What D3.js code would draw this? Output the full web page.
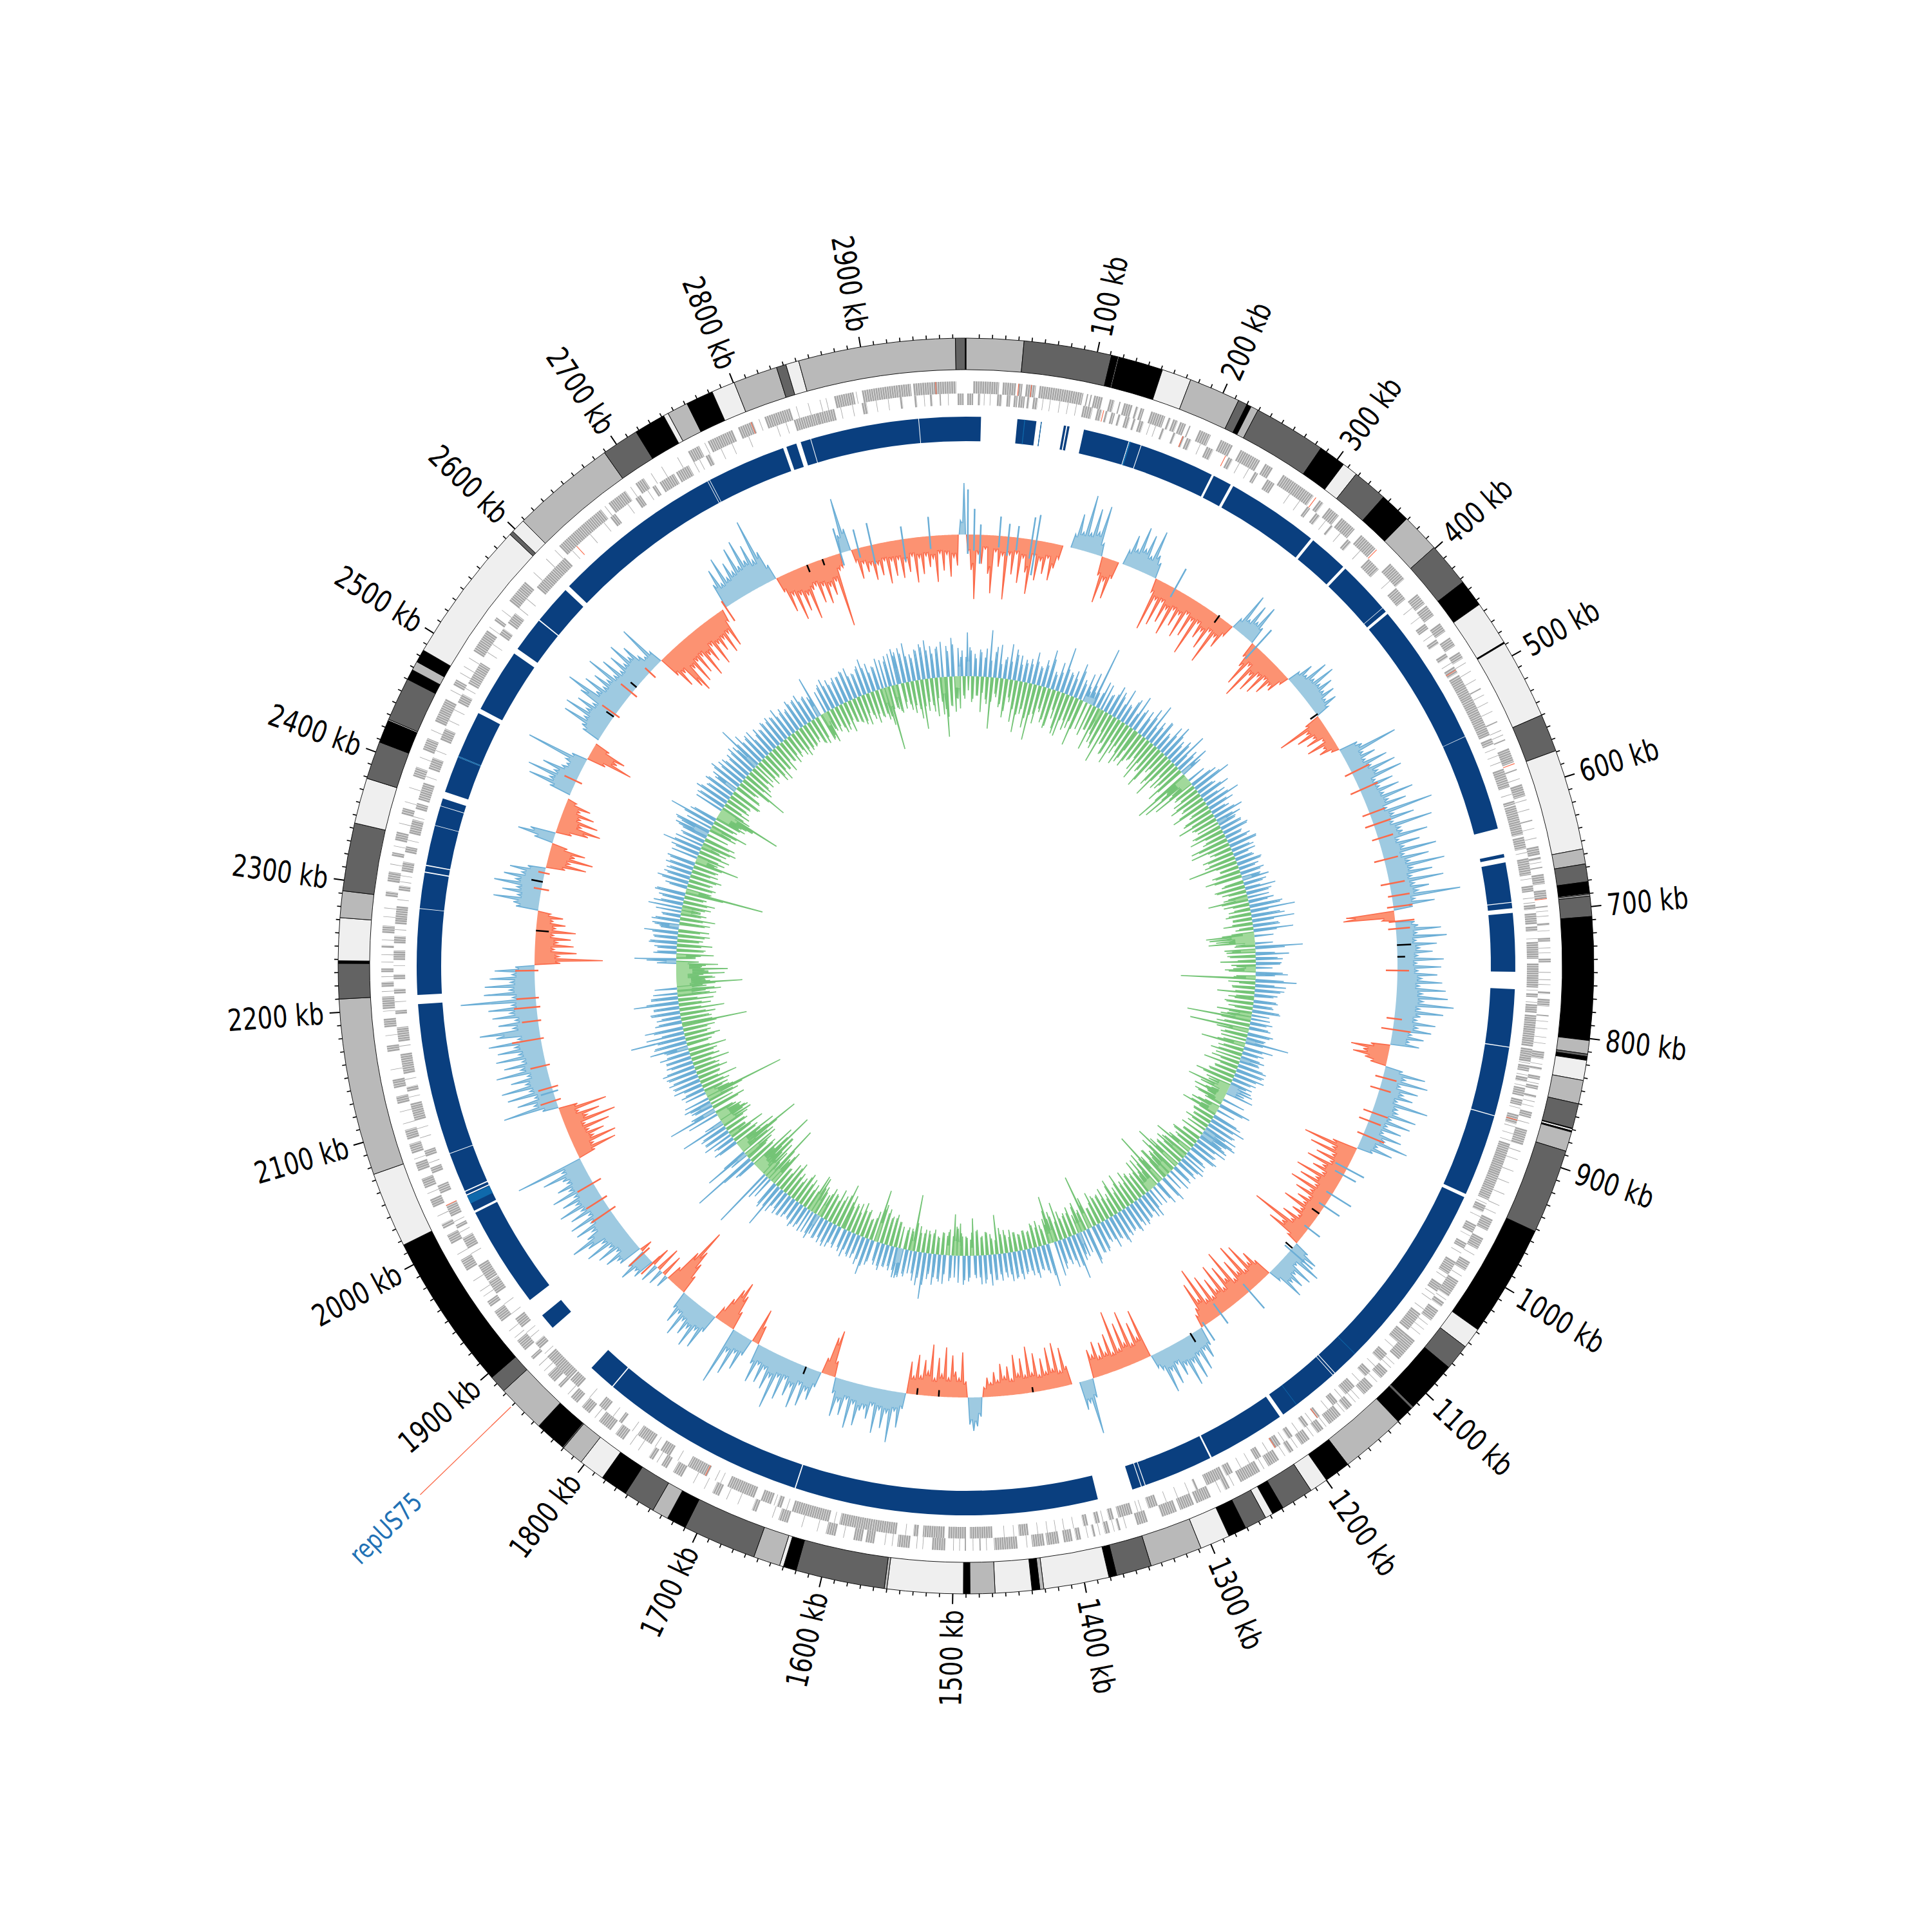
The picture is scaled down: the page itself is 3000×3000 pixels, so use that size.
<!DOCTYPE html>
<html><head><meta charset="utf-8">
<script src="https://cdnjs.cloudflare.com/ajax/libs/d3/7.8.5/d3.min.js"></script>
<style>html,body{margin:0;background:#fff}svg{display:block}</style></head>
<body><svg id="c" width="3000" height="3000"></svg>
<script>
const genomeKb = 2980;
const binKb = 4;
const ringStarts = [0,44,111,116,116.8,151,173.6,213,220,223.6,229.4,285,306,318,345,369,399,433,454,488,489,550,579,656,667.5,681,690,690.7,692,707.5,801.5,811.8,813.7,816.6,832,850,869,869.5,871,872,887,952,1038,1054,1074,1114,1116,1130,1180,1200,1214,1239,1248,1254,1271,1285,1308,1348,1375,1381,1431,1434,1440,1468,1487,1492,1550,1552,1620,1630,1633,1653.5,1710,1725,1737.6,1762,1783,1803,1820,1821,1845,1882.5,1896,2016.6,2074.6,2210,2237,2239,2271.6,2292,2344,2379,2408,2425.6,2426.5,2460,2468,2475,2485,2594.5,2597.6,2608.6,2689,2717.6,2741.7,2745.5,2761.6,2782.6,2800.6,2834.6,2842,2852,2972,2979.5];
const ringLevels = [1,2,3,1,3,0,1,2,3,1,2,3,0,2,3,1,2,3,0,3,0,2,0,1,2,3,0,1,2,3,1,2,3,0,1,2,3,0,3,1,2,3,0,2,3,2,3,1,3,0,2,3,0,2,3,0,1,2,3,0,1,3,0,1,3,0,1,2,3,0,1,2,3,1,2,3,0,1,2,3,1,2,3,0,1,2,3,0,1,2,0,2,3,0,2,3,1,3,0,2,0,1,2,3,0,1,3,0,1,2,0,1,2,3];
const ringColors = ["#efefef","#b9b9b9","#636363","#000000"];

const genesOuter = [[6,27],[30,41],[43,46],[49,57],[60,96],[99,100],[102,103],[105,112],[118,122],[126,127],[130,137],[140,142],[144,147],[153,165],[168,170],[172,176],[178,183],[186,187],[195,205],[214,225],[232,250],[255,262],[272,302],[308,312],[318,328],[331,345],[352,368],[385,402],[418,428],[430,440],[448,456],[462,470],[476,482],[510,511],[540,541],[556,557],[564,576],[582,583],[595,605],[625,626],[647,654],[656,658],[664,665],[670,678],[683,690],[696,697],[710,712],[722,725],[739,742],[766,768],[772,778],[785,786],[815,821],[828,830],[835,838],[843,846],[851,853],[865,870],[880,893],[958,968],[975,985],[997,1005],[1015,1030],[1036,1040],[1044,1054],[1075,1095],[1108,1116],[1125,1135],[1148,1154],[1160,1172],[1178,1184],[1192,1200],[1208,1212],[1222,1232],[1240,1258],[1268,1272],[1285,1298],[1300,1312],[1315,1328],[1340,1349],[1363,1365],[1372,1376],[1384,1386],[1396,1400],[1403,1410],[1414,1424],[1426,1436],[1448,1467],[1478,1479],[1490,1491],[1507,1518],[1536,1546],[1565,1572],[1575,1582],[1597,1605],[1637,1645],[1664,1668],[1697,1703],[1731,1739],[1745,1750],[1758,1762],[1787,1795],[1800,1812],[1822,1830],[1835,1842],[1853,1856],[1860,1868],[1885,1888],[1895,1905],[1925,1935],[1940,1945],[1975,1985],[2000,2008],[2014,2018],[2033,2040],[2050,2058],[2065,2072],[2080,2088],[2092,2100],[2122,2128],[2135,2142],[2165,2170],[2185,2192],[2200,2210],[2218,2222],[2230,2233],[2250,2252],[2262,2268],[2292,2296],[2304,2312],[2325,2328],[2338,2345],[2360,2365],[2392,2400],[2415,2425],[2440,2460],[2473,2478],[2505,2525],[2535,2538],[2555,2575],[2615,2660],[2668,2685],[2695,2703],[2745,2755],[2763,2785],[2790,2803],[2813,2835],[2872,2888],[2895,2925],[2925,2935],[2937,2955],[2955,2972]];
const genesInner = [[1,6],[10,12],[26,30],[34,37],[40,43],[44,49],[51,53],[56,60],[98,106],[110,114],[117,119],[122,125],[128,130],[134,138],[141,143],[146,150],[166,168],[176,178],[184,186],[188,192],[206,212],[226,230],[251,254],[263,270],[303,306],[312,316],[328,330],[346,350],[370,382],[403,415],[441,446],[457,461],[471,475],[484,490],[492,548],[551,556],[578,594],[606,609],[610,635],[637,647],[655,669],[678,683],[694,698],[701,710],[712,716],[725,739],[743,763],[768,771],[777,784],[786,812],[814,825],[828,833],[838,842],[847,854],[857,862],[870,878],[895,945],[950,956],[968,975],[985,990],[1003,1015],[1025,1032],[1055,1072],[1075,1085],[1098,1106],[1118,1124],[1136,1146],[1155,1160],[1174,1177],[1186,1190],[1202,1206],[1214,1220],[1233,1238],[1260,1266],[1268,1284],[1292,1294],[1328,1336],[1350,1362],[1366,1370],[1378,1382],[1388,1392],[1438,1446],[1468,1487],[1490,1505],[1508,1526],[1530,1534],[1548,1569],[1569,1596],[1605,1637],[1646,1650],[1655,1664],[1670,1694],[1713,1731],[1748,1757],[1766,1780],[1796,1799],[1813,1820],[1843,1852],[1853,1879],[1888,1894],[1911,1920],[1946,1958],[1959,1974],[1990,2000],[2009,2012],[2020,2030],[2041,2048],[2059,2064],[2074,2079],[2105,2120],[2130,2134],[2145,2162],[2172,2184],[2195,2198],[2212,2216],[2224,2228],[2240,2248],[2254,2260],[2270,2285],[2298,2302],[2314,2322],[2330,2335],[2346,2358],[2367,2372],[2375,2390],[2402,2412],[2428,2438],[2462,2470],[2480,2500],[2528,2534],[2540,2550],[2578,2612],[2662,2667],[2688,2693],[2705,2708],[2712,2726],[2728,2740],[2756,2760],[2835,2855],[2855,2870],[2893,2897],[2925,2927],[2937,2939],[2950,2952],[2958,2959],[2973,2978]];
const thinOuter = [486,494,502,516,523,531,548,552,590,608,616,632,640,660,700,704,716,730,734,750,756,760,790,796,803,808,825,841,856,860,874,898,905,915,925,935,945,952,990,1010,1033,1058,1063,1068,1100,1104,1120,1140,1144,1156,1175,1188,1204,1216,1236,1264,1276,1358,1368,1380,1390,1440,1473,1484,1495,1500,1525,1530,1550,1556,1590,1612,1625,1650,1680,1690,1710,1720,1754,1772,1780,1816,1845,1872,1878,1908,1915,1950,1955,1965,1990,2025,2045,2075,2105,2115,2150,2178,2198,2214,2226,2238,2244,2256,2275,2282,2318,2333,2352,2370,2382,2408,2432,2468,2484,2490,2498,2528,2545,2585,2600,2610,2664,2690,2710,2720,2735,2760,2808,2840,2850,2860,2865,2890];
const thinInner = [15,20,64,70,78,85,92,155,160,200,236,245,285,295,322,338,360,395,424,434,452,480,560,566,572,600,650,672,688,692,722,765,775,826,836,845,864,880,886,892,948,960,978,994,1018,1035,1040,1050,1090,1112,1130,1150,1165,1182,1196,1210,1226,1244,1252,1300,1310,1320,1342,1345,1375,1400,1408,1415,1422,1430,1450,1458,1530,1540,1600,1641,1652,1700,1705,1740,1762,1785,1805,1830,1882,1900,1905,1925,1935,1985,2005,2015,2068,2090,2098,2125,2140,2168,2205,2235,2265,2290,2305,2310,2340,2360,2395,2418,2445,2455,2475,2510,2518,2555,2565,2620,2640,2655,2680,2700,2745,2750,2770,2780,2795,2820,2828,2875,2885,2905,2915,2945,2965];
const redOuter = [42.5,53,304,369,577,690,2801,2955];
const redInner = [115,184,223,487,874,1176,1219,1714,2030,2625];

const blueSpans = [[0,13],[44.5,61],[65,65.6],[85,87],[88,90],[102.7,142.6],[143.3,153.6],[154.2,220],[222,238.5],[241,322],[324.5,359],[361.5,408],[408.5,412.5],[415,540.4],[540.8,625],[647.5,650.5],[655,689.5],[690.2,695],[699,750],[765,815],[815.8,875.6],[876.4,948],[951,1140.5],[1141.2,1143],[1143.6,1198],[1201.5,1270],[1271.5,1332],[1332.7,1335.5],[1336.2,1344],[1375,1639.5],[1640.5,1821],[1822,1845.8],[1894,1908],[1925,2014],[2016,2030.5],[2031.5,2034],[2035,2069.5],[2070,2202],[2210,2284.5],[2285,2316],[2317,2322],[2323,2357.5],[2358,2375],[2375.5,2382],[2388,2420],[2421,2462],[2466,2522],[2527,2557.5],[2558.5,2592.5],[2597,2747.5],[2748,2749.5],[2750,2819],[2822,2831],[2835,2843.7],[2844.3,2938.7],[2939.3,2980]];
const blueAccents = [[50.5,51.2],[65,65.6],[143.3,144.5],[1116.5,1117],[1183.5,1184],[2023,2030],[2420,2421]];

const track1 = [
-28,-55,-100,-30,-45,-22,-60,-90,-25,-48,-30,-98,-28,-58,-25,-70,-30,-52,-85,-26,-62,-30,-50,-24,-58,
-38,-22,0,0,22,55,28,88,30,70,35,78,20,-30,-72,-35,-62,-28,0,24,50,30,68,35,60,
28,72,35,25,-22,-82,-30,-70,-28,-60,-35,-75,-30,-55,-32,-68,-25,-60,-30,-85,-28,-50,-35,-62,-28,
-80,-30,-45,-20,18,65,25,55,30,62,28,-25,-40,-70,-30,-85,-40,-65,-32,-60,-28,-50,-30,-35,-15,
20,40,25,58,30,62,32,50,30,45,25,40,22,-25,-75,-30,-50,-25,-40,-15,-45,-20,-30,-12,30,
35,90,30,48,28,62,32,70,38,75,28,55,30,60,32,78,35,62,28,100,35,66,30,91,38,
40,78,30,62,35,85,32,70,38,92,40,70,36,85,38,60,42,107,35,65,30,-75,-80,-20,30,
35,70,32,78,30,62,35,55,32,72,30,68,32,62,38,70,35,76,40,80,42,90,38,75,40,
35,65,38,60,30,50,28,45,-30,-60,-40,-55,-35,-25,28,65,35,72,30,60,38,55,32,83,36,
38,70,32,65,30,55,28,60,35,75,28,55,25,-40,-85,-35,-70,-30,-55,-28,-65,-35,-50,-30,-72,
-35,-60,-30,-70,-32,-55,-28,-45,-30,-62,-28,-40,-25,-50,-30,-95,-40,-60,-20,25,45,30,60,22,55,
30,50,35,58,20,-30,-50,-35,-72,-30,-80,-35,-60,-30,-85,-40,-65,-30,-75,-35,-58,-30,-70,-32,-90,
-40,-70,-30,-20,30,48,32,62,35,70,40,75,38,52,30,60,35,68,28,22,-78,-35,-62,-30,-85,
-35,-70,-30,-93,-28,-60,-32,-50,-30,-55,-35,-45,30,86,35,45,0,0,-30,-60,-25,-70,-30,-65,-28,
-50,-25,-60,-30,-72,-28,-55,-32,-62,-25,-45,-30,-50,-25,-38,-22,-30,-15,30,45,52,42,-25,-70,-30,
-40,-65,-30,-77,-35,-60,-28,-80,-38,-55,-30,-62,-28,-50,25,55,30,80,35,60,32,70,28,50,35,
40,65,32,72,28,55,35,60,25,-25,-72,-60,-25,25,48,35,62,30,70,38,55,30,66,32,86,
38,60,30,55,28,60,32,-30,-55,28,55,30,70,35,92,-30,-55,-75,-60,-40,-20,30,62,35,68,
40,55,35,65,30,50,28,-30,-50,-70,-104,-60,-25,20,-35,25,-40,30,-30,35,28,50,32,-20,38,
38,55,30,60,35,72,40,62,86,55,42,66,36,68,32,60,38,72,40,60,36,70,38,55,35,
40,70,35,107,-28,-65,-30,-70,-35,-55,-32,-68,-30,-82,-38,-60,-28,-75,-30,25,86,35,60,30,72,
35,78,38,60,32,80,40,65,35,75,38,70,42,82,35,68,93,40,62,35,70,42,75,38,117,
36,80,40,78,38,70,35,62,30,-40,-106,-38,-65,-30,-60,-35,-55,-28,-62,-30,-45,-25,-40,-20,35,
40,72,35,60,38,75,42,62,35,55,28,-30,-62,-35,-70,-40,-55,-25,30,58,40,-25,-50,-68,-35,
-60,-30,-50,-25,-40,-15,0,35,72,40,79,38,60,30,25,30,97,25,-30,-72,-45,-55,-25,0,30,
35,70,38,75,42,62,38,66,92,45,70,40,62,42,82,38,65,35,60,38,71,40,55,30,22,
73,22,-35,-60,-40,-72,-83,-45,-74,-40,-65,-38,-78,-45,-60,-35,-72,-40,-55,-38,-65,-35,-60,-20,0,
40,62,35,75,38,60,42,78,45,84,48,70,42,105,50,25,-25,-60,-35,-78,-40,-68,-45,-85,-40,
-35,-65,-40,-70,-45,-60,-40,-113,-25,-22,28,85,35,-20,-48,-25,-40,-30,-55,-32,-50,-28,-65,-30,-55,
-30,-60,-35,-52,-28,-70,-32,-58,-30,-48,-35,-72,-28,-55,-30,-65,-35,-48,22,80
];
const track2 = [
68,45,-40,35,-30,42,-55,30,-35,73,-80,40,-25,52,-45,30,-60,55,-28,48,-65,40,-80,35,-50,
38,-70,50,-88,30,-45,42,-35,60,-55,28,-62,45,-30,72,-58,35,-68,40,-40,55,-50,32,-75,45,
18,50,20,95,-40,25,-70,42,-55,30,-62,48,-81,35,-45,52,-60,28,-72,45,-38,55,-65,38,-50,
40,-60,50,-45,62,-35,38,-68,45,-50,30,-72,48,-40,55,-58,35,-73,42,-30,60,-48,38,-65,50,
35,-94,-40,-85,-35,-70,45,-38,63,-45,32,-55,50,-40,38,-60,57,-35,42,-50,30,-62,48,-38,40,
30,-48,35,-55,42,-32,28,-60,38,-63,45,-35,30,-50,36,-42,28,-78,40,-30,32,-45,38,-58,30,
42,-35,30,-45,48,-28,35,-38,-63,40,-40,52,-25,70,-35,45,-30,66,-32,40,-22,62,-35,-75,-70,
-60,-72,-30,74,-48,-45,52,-40,42,-55,38,-30,-35,-42,50,-30,-116,64,-25,48,-35,40,-58,30,-40,
35,-45,30,-38,42,-55,28,-48,-100,35,-40,30,-93,-50,35,-42,28,68,-35,-69,30,-40,25,-50,38,
30,-45,40,-55,45,-35,48,-42,38,-60,35,-40,-35,-67,-45,-25,-52,-28,-48,-24,51,-25,-46,-28,-58,
40,-35,58,-30,47,-40,54,-32,58,-38,45,-30,52,-45,40,-35,48,-42,-63,36,-48,-55,42,-50,30,
-58,-78,35,-65,38,-42,30,-55,45,-48,-89,40,-60,-30,-55,-28,-56,30,-40,41,-45,35,-52,38,-40,
40,-56,45,-38,36,-55,42,-35,50,-48,38,-42,48,-40,35,-52,42,-30,45,-50,-87,58,-30,-48,40,
35,-45,71,-38,50,-32,42,-60,38,-40,55,-74,-30,68,-25,45,-40,38,-35,48,-28,42,-30,35,-25,
45,-30,40,-35,45,-28,38,-30,42,-61,40,-25,48,-35,38,-30,45,-40,35,-58,-25,40,-30,45,-35,
42,-45,-64,35,-40,-30,45,-35,38,-28,48,-32,40,-35,72,-30,52,-40,35,-88,-30,42,-35,45,47,
47,-40,38,-50,35,-45,42,-55,36,-60,-82,40,-35,58,-30,45,-40,38,-52,35,-48,42,-45,30,-55,
35,-70,30,-48,40,-55,38,-42,35,-50,32,42,-38,36,-58,-60,30,-40,35,-45,32,-50,28,-38,36,
-42,38,-55,30,-48,72,-35,45,-60,-40,35,-96,-30,98,-28,-70,-35,-107,-40,-78,35,-50,104,-40,30,
72,-60,-28,-108,-35,-70,40,-45,35,-59,-30,42,-38,45,-35,72,30,-50,-38,-42,-35,79,40,-55,35,
35,-50,40,-127,-40,-30,38,-45,30,-60,42,-35,48,-50,45,-40,52,-58,35,-45,40,-38,48,-60,35,
60,-40,50,-55,86,-42,35,-50,60,-102,42,-48,38,-55,45,-70,40,-50,70,-55,42,-60,38,-68,35,
-40,-102,-45,-60,-35,-75,-50,-80,-40,-65,-35,65,-30,-58,30,-45,35,-55,42,-40,38,-50,53,-48,30,
42,-48,38,-55,30,-40,-30,53,-45,35,-50,40,-35,45,-123,-40,35,-45,50,-38,42,-50,35,-42,38,
-40,45,-70,-35,-45,38,-50,62,-42,45,-55,40,-50,48,-35,55,-45,42,-60,74,-40,38,-50,-42,-60,
-102,-50,48,-45,55,-40,42,-38,50,-48,38,45,-42,55,-35,48,-80,40,-50,45,-38,50,-42,38,74,
-45,55,-38,42,-50,48,-53,35,-40,38,-48,45,-35,40,-43,42,-38,50,-30,38,-45,35,-40,48,-38,
42,-35,48,-40,38,-45,35,65,-42,-50,-30,40,-38,50,-35,45,-42,38,-48,42,-35,48,-38,50,-45,
38,-48,42,-35,55,-50,45,-42,38,-40,48,-60,-100,40,-35,50,-45,45,-40,55,-35,61,-50,42,-45,
48,-77,55,-50,60,-42,50,-60,45,-38,55,-93,48,-45,60,-55,-35,-50,40,-35
];
const track2Between = [
30,-22,40,-35,28,-30,38,-25,44,-42,26,-38,48,-30,22,-40,34,-50,28,-35,40,-45,26,-52,30,
-42,30,-55,36,-48,28,-60,34,-40,46,-50,24,-58,30,-44,38,-66,32,-42,28,-55,44,-38,26,-48,
25,-45,30,-52,22,-40,44,-36,-42,28,-55,34,-30,42,-48,26,-62,30,-36,40,-52,24,-46,32,-58,
-35,28,-50,36,-42,24,-55,30,-38,44,-46,26,-60,34,-32,40,-50,28,-44,36,-52,24,-40,30,-48,
26,-60,-38,-52,30,-42,36,-34,48,-30,28,-44,38,-36,26,-48,40,-30,32,-46,24,-38,36,-42,28,
-36,28,-44,34,-30,40,-38,26,-48,32,-36,44,-28,36,-42,24,-50,30,-34,38,-30,26,-40,32,-44,
28,-30,36,-48,24,-38,40,-30,34,-42,30,-26,48,-34,28,-40,52,-30,34,-46,42,-28,36,-50,30,
-34,-40,28,-32,46,-36,30,-44,34,-28,40,-38,26,-48,42,30,-34,44,-42,30,-36,46,-30,36,-28,
-30,38,-42,32,-28,44,-36,-38,30,-46,26,-52,34,-30,40,-36,30,-40,28,-44,46,-32,34,-38,30,
-40,32,-30,46,-28,42,-34,36,-40,30,-48,26,36,40,28,44,-34,-30,36,-42,-28,40,-36,30,-44,
-28,48,-34,40,-30,44,-28,36,52,44,38,50,-30,34,-42,38,-30,44,-36,30,-44,38,-40,34,-48,
36,-44,30,-52,-40,-46,-36,-54,-34,36,-42,-48,30,-44,32,-34,30,-38,44,-36,30,-42,36,-34,42,
-34,32,-42,40,-30,38,-46,36,-28,44,-32,36,-40,34,-44,30,-36,46,-30,44,-38,52,-34,36,-42,
-30,44,-36,50,-34,38,-44,34,-30,46,-48,-38,-52,-40,50,-32,40,-30,36,-38,40,-26,34,-30,38,
-26,36,-30,42,-24,34,-36,30,-40,32,-22,40,-32,30,-36,44,-28,34,-38,30,-36,34,-28,38,-30,
-50,-42,34,-30,40,-36,30,-34,42,-26,36,-38,32,-30,50,-36,40,-30,46,-44,36,-34,38,-30,42,
-34,36,-40,32,-44,34,-42,36,-48,30,-52,34,-46,44,-32,36,-44,30,-40,38,-34,30,-42,36,-38,
-44,30,-52,38,-40,34,-36,30,-44,36,-40,-36,34,-46,-42,38,-32,36,-30,40,-36,30,-44,34,-30,
36,-34,30,-46,42,-30,38,-34,40,-52,-44,-58,42,-48,-62,-44,-70,-50,-66,-40,30,-44,54,-36,-50,
-60,40,-50,-72,-56,-44,32,-40,30,-36,48,-30,42,-34,40,-44,-52,-40,-46,-38,50,-30,36,-44,30,
-38,44,-42,-60,-46,34,-40,30,-36,46,-30,44,-36,40,-38,48,-34,44,-30,42,-36,40,-44,36,-34,
38,-34,52,-46,44,-36,60,-38,46,-54,-48,36,-44,30,-40,46,-34,40,-36,50,-30,42,-50,-44,-58,
-46,-60,-52,-44,-56,-42,-50,-44,-38,-46,30,46,-30,-38,36,-42,30,-38,44,-34,36,-42,40,-34,28,
38,-40,44,-36,28,-32,40,-30,-36,46,-38,34,-30,48,-60,-38,28,-40,42,-34,36,-42,40,-30,44,
-36,40,-44,-30,42,-34,46,-36,44,-30,-46,36,-42,40,54,46,58,-36,-44,50,-34,44,-42,-38,-50,
-60,46,-38,44,-30,48,-34,40,-36,46,-50,34,-44,48,-30,40,-52,46,-36,38,-44,42,-32,46,-36,
44,-34,40,-36,46,-42,30,-36,44,-40,36,-30,42,-36,46,-30,40,-32,36,-40,44,-34,38,-36,42,
-36,44,-30,36,-42,40,-36,30,-44,-38,36,-34,44,-30,38,-44,36,-34,44,-30,42,-36,46,-40,36,
-40,36,-30,46,-42,40,-36,30,-44,36,-50,-46,44,-36,48,-38,-42,56,50,-30,46,-44,40,-38,36,
-60,46,-42,50,-36,44,-52,38,-32,48,-58,-50,-62,40,-46,50,-34,44,30,-30
];
const orangeCross = [[525,-12,30],[546,-16,30],[574,-12,25],[587,-14,28],[603,-10,24],[627,-16,22],[654,-14,24],[668,-6,28],[680,-10,30],[696,-10,30],[704,-12,22],[750,-18,18],[803,-12,12],[815,-18,28],[869,-12,22],[882,-15,18],[909,-14,26],[919,-16,20],[935,-10,35],[1875,-15,25],[1890,-12,30],[1950,-10,35],[1965,-8,30],[1985,-14,28],[2085,-8,25],[2100,-10,22],[2125,-6,25],[2155,-5,45],[2175,-5,25],[2190,-6,35],[2200,-5,30],[2230,-6,30],[2320,-12,12],[2338,-8,10],[2445,-10,20],[2530,-8,25],[2560,-10,22],[2590,-12,10],[2700,-25,12]];
const blueCross = [[2,-30,70],[9,-25,40],[16,-45,16],[37,-18,30],[47,-30,20],[57,-20,18],[73,-30,35],[78,-55,40],[240,-15,35],[350,-25,35],[977,-20,30],[985,-15,22],[1010,-10,35],[1025,-10,28],[1055,-8,22],[1086,-12,45],[1150,-15,35],[1190,-20,18],[1212,-6,28],[2095,-8,20],[2840,-20,40],[2860,-15,30],[2875,-30,35],[2910,-35,20],[2940,-20,30]];
const blackMarks = [[297,-12,2],[450,-12,2],[722,0,22],[735,0,12],[1035,-14,0],[1083,-14,0],[1230,-2,14],[1416,-8,0],[1520,-10,0],[1544,-10,0],[1670,0,12],[2274,-20,0],[2328,0,18],[2527,0,14],[2568,0,12],[2801,-12,0],[2819,-10,0]];
const tickStep = 10, labelStep = 100;
const noteLabel = ["repUS75"], noteKb = [1870];

const svg = d3.select("#c");
const g = svg.append("g").attr("transform","translate(1500,1500)");
const ang = d3.scaleLinear().domain([0,genomeKb]).range([0,2*Math.PI]);
const deg = k => ang(k)*180/Math.PI;
const span = (r0,r1)=>d3.arc().innerRadius(r0).outerRadius(r1).startAngle(d=>ang(d[0])).endAngle(d=>ang(d[1]));

// outer band ring
const ringData = ringStarts.map((s,i)=>[s,i+1<ringStarts.length?ringStarts[i+1]:genomeKb,ringLevels[i]]);
g.append("g").selectAll("path").data(ringData).join("path")
 .attr("d",span(926,975)).attr("fill",d=>ringColors[d[2]]).attr("stroke","#000").attr("stroke-width",0.9);

// ticks
const ticks = d3.range(tickStep,genomeKb,tickStep);
g.append("g").selectAll("line").data(ticks).join("line")
 .attr("transform",d=>`rotate(${deg(d)-90})`)
 .attr("x1",975).attr("x2",d=>d%labelStep===0?991:981)
 .attr("stroke","#000").attr("stroke-width",d=>d%labelStep===0?2:1.6);
const labelFont = "'DejaVu Sans Condensed','DejaVu Sans',sans-serif";
g.append("g").selectAll("text").data(ticks.filter(d=>d%labelStep===0)).join("text")
 .attr("transform",d=>{const a=deg(d);return a<=180?`rotate(${a-90}) translate(1000,0) scale(0.87,1)`:`rotate(${a-90}) translate(1000,0) rotate(180) scale(0.87,1)`;})
 .attr("text-anchor",d=>deg(d)<=180?"start":"end")
 .attr("dominant-baseline","central")
 .attr("font-family",labelFont).attr("font-stretch","condensed").attr("font-size",47).attr("fill","#000")
 .text(d=>`${d} kb`);

// gene rows: each block is stroked along its mid radius so single genes stay visible
const geneArc = (d,r)=>{const p=d3.path();p.arc(0,0,r,ang(d[0])-Math.PI/2,ang(d[1])-Math.PI/2);return p.toString();};
const geneRow = (blocks,thin,r,w)=>{
  const rows=g.append("g").attr("fill","none").attr("stroke","#a6a6a6").attr("stroke-width",w);
  rows.selectAll("path.b").data(blocks).join("path").attr("class","b").attr("d",d=>geneArc(d,r)).attr("stroke-dasharray","2.8 0.7");
  rows.selectAll("path.t").data(thin.map(k=>[k,k+0.45])).join("path").attr("class","t").attr("d",d=>geneArc(d,r));
};
geneRow(genesOuter,thinOuter,898.5,19);
geneRow(genesInner,thinInner,880,18);
g.append("g").selectAll("path").data(redOuter.map(k=>[k,k+0.6])).join("path").attr("d",span(889,908)).attr("fill","#fb6a4a");
g.append("g").selectAll("path").data(redInner.map(k=>[k,k+0.6])).join("path").attr("d",span(871,889)).attr("fill","#fb6a4a");

// blue ring
g.append("g").selectAll("path").data(blueSpans).join("path").attr("d",span(815,853)).attr("fill","#0a3f7f");
g.append("g").selectAll("path").data(blueAccents).join("path").attr("d",span(815,853)).attr("fill","#0f69ab");

// signed tracks: each value is one narrow spike standing on the band its neighbours share
function drawTrack(vals,base,shiftKb,halfKb,bandK,upFill,upLine,downFill,downLine){
  const r = d3.scaleLinear().domain([-100,100]).range([base-100,base+100]);
  const n = vals.length;
  [[upFill,upLine,x=>Math.max(x,0)],[downFill,downLine,x=>Math.min(x,0)]].forEach(([f,l,pick])=>{
    const band=(x,y)=>{const a=pick(x),b=pick(y);return a===0||b===0?0:(Math.abs(a)<Math.abs(b)?a:b)*bandK;};
    const pts=[];
    vals.forEach((x,i)=>{
      const c=i*binKb+shiftKb, p=vals[(i+n-1)%n], q=vals[(i+1)%n];
      pts.push([c-halfKb,band(p,x)],[c,pick(x)],[c+halfKb,band(x,q)]);
    });
    pts.push(pts[0]);
    const area=d3.areaRadial().angle(d=>ang(d[0])).innerRadius(r(0)).outerRadius(d=>r(d[1]));
    g.append("path").attr("d",area(pts)).attr("fill",f);
    const line=d3.lineRadial().angle(d=>ang(d[0])).radius(d=>r(d[1]));
    let s="";
    for(let i=0;i+2<pts.length;i+=3){ if(pts[i+1][1]!==0) s+=line(pts.slice(i,i+3)); }
    g.append("path").attr("d",s).attr("fill","none").attr("stroke",l).attr("stroke-width",1.6);
  });
  return r;
}
const r1 = drawTrack(track1,670,2,1.5,0.8,"#9ecae1","#6baed6","#fc9272","#fb6a4a");
drawTrack(track2Between,450,0,1.0,0.5,"#9ecae1","#6baed6","#a1d99b","#74c476");
drawTrack(track2,450,2,1.0,0.5,"#9ecae1","#6baed6","#a1d99b","#74c476");
const seg = (arr,color,w)=>g.append("g").selectAll("line").data(arr).join("line")
  .attr("transform",d=>`rotate(${deg(d[0])-90})`).attr("x1",d=>r1(d[1])).attr("x2",d=>r1(d[2]))
  .attr("stroke",color).attr("stroke-width",w);
seg(blueCross,"#6baed6",2.5);
seg(orangeCross,"#fb6a4a",2.5);
seg(blackMarks,"#000",2.5);

// annotation
const noteG = g.append("g").selectAll("g").data(noteKb).join("g").attr("transform",d=>`rotate(${deg(d)-90})`);
noteG.append("line").attr("x1",984).attr("x2",1180).attr("stroke","#fb6a4a").attr("stroke-width",1.3);
noteG.append("text").attr("transform","translate(1186,0) rotate(180) scale(0.87,1)").attr("text-anchor","end").attr("dominant-baseline","central")
 .attr("font-family",labelFont).attr("font-stretch","condensed").attr("font-size",41).attr("fill","#2171b5").text((d,i)=>noteLabel[i]);
</script></body></html>
